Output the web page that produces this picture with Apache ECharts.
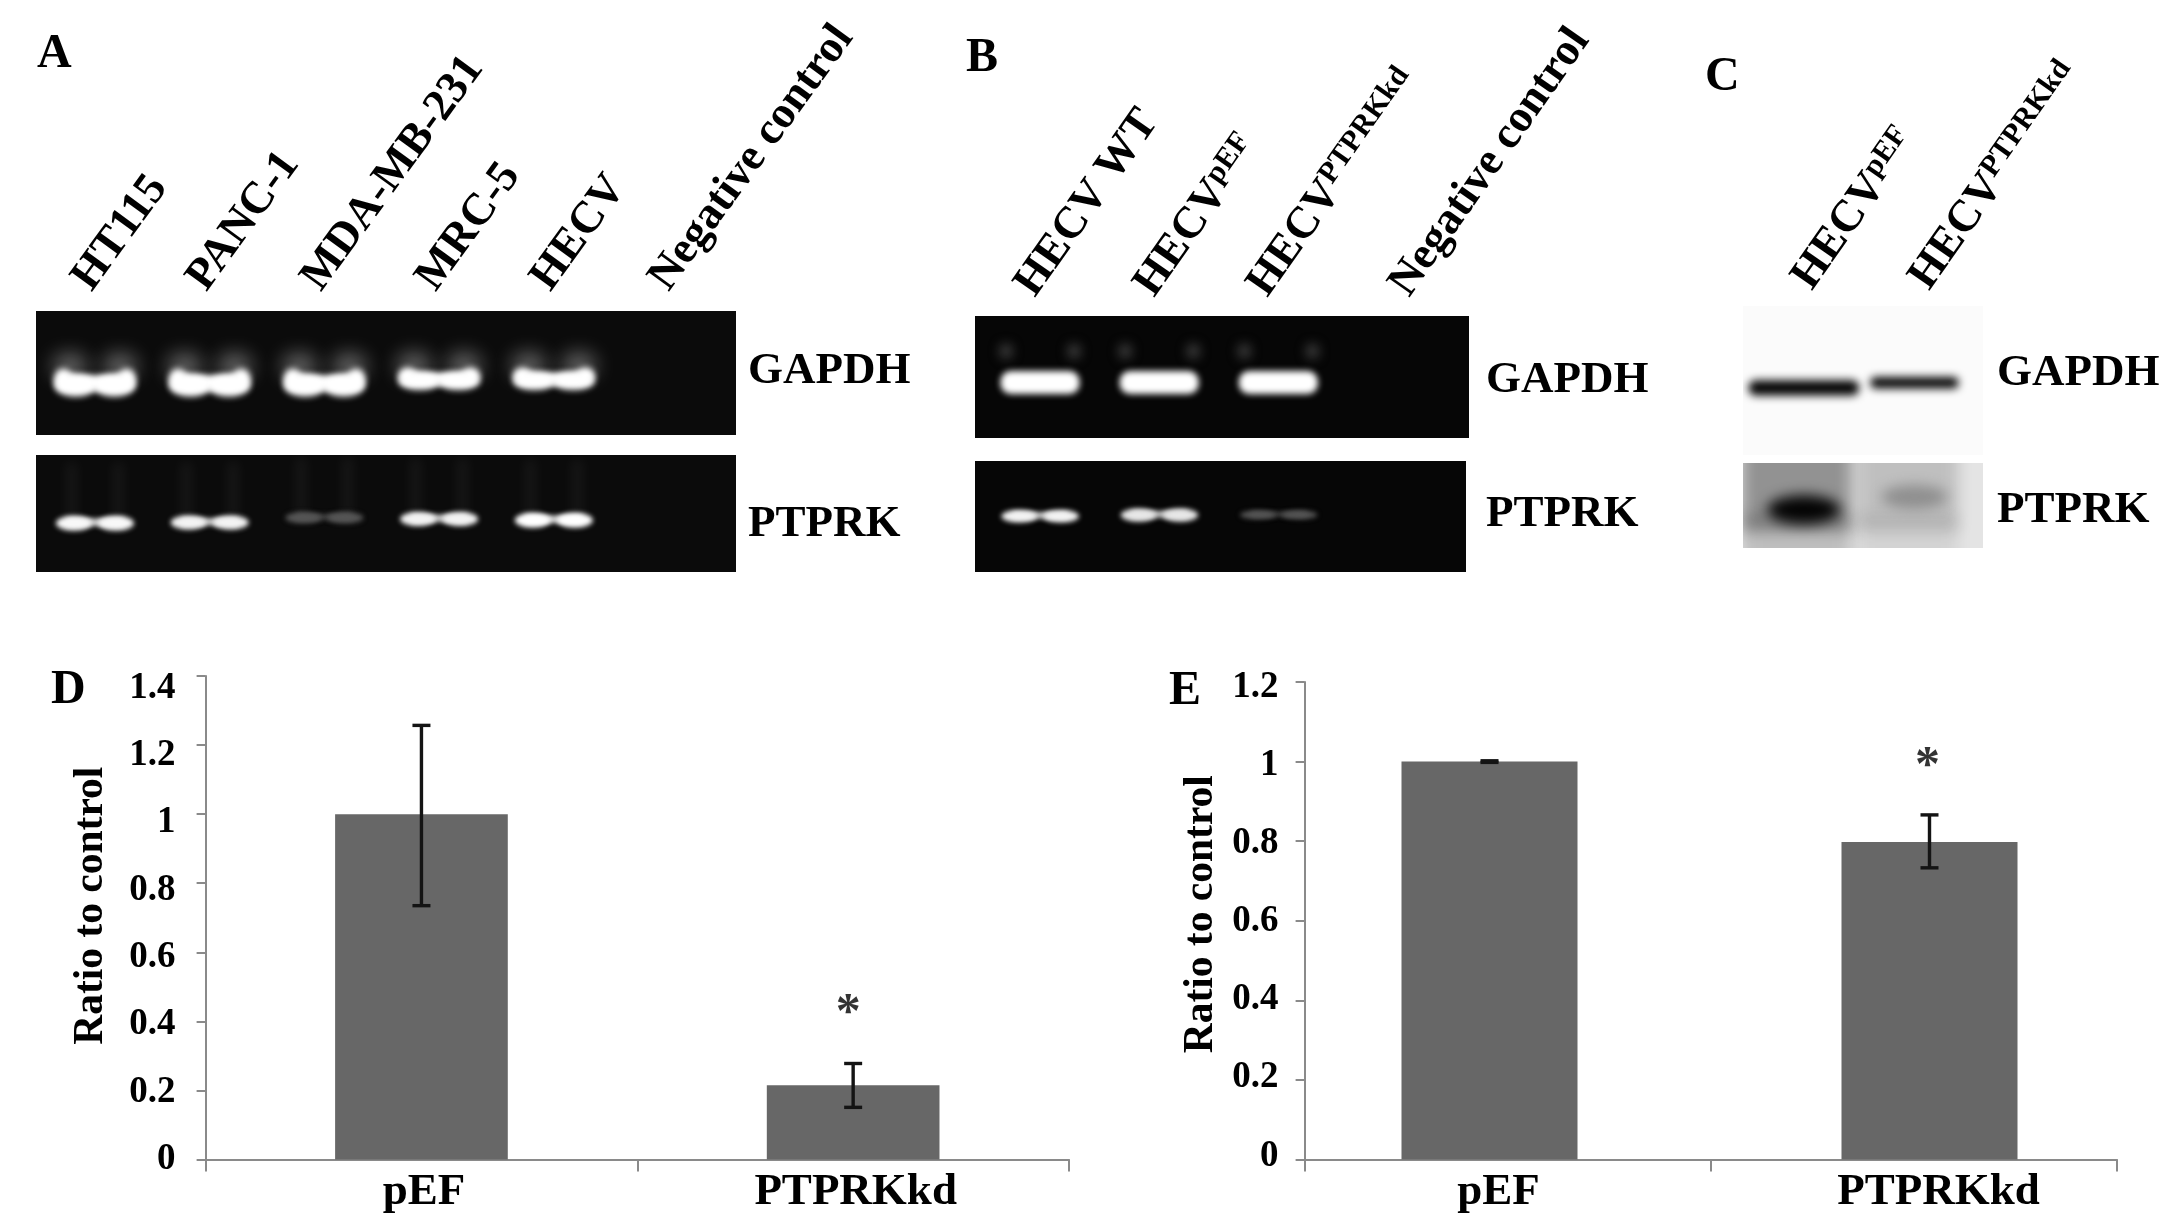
<!DOCTYPE html>
<html><head><meta charset="utf-8">
<style>html,body{margin:0;padding:0;background:#fff}#c{width:2173px;height:1218px}</style>
<script src="https://cdn.jsdelivr.net/npm/echarts@6/dist/echarts.min.js"></script>
</head><body><div id="c"></div>
<script>
// ---- panel A: lanes and bands (migration = % of gel height from the top)
const lanesA = ['HT115','PANC-1','MDA-MB-231','MRC-5','HECV','Negative control'];
const gapdhAIntensity = [1,1,1,1,1,0];
const gapdhAMigration = [57,57,57,54,54,0];
const gapdhAThickness = [25,25,25,20,20,0];
const ptprkAIntensity = [0.97,0.95,0.3,0.95,1,0];
const ptprkAMigration = [57.5,57,53,54,55,0];
const ptprkAThickness = [16,15,12,15,16,0];
// ---- panel B
const lanesB = ['HECV WT','HECV|pEF','HECV|PTPRKkd','Negative control'];
const gapdhBIntensity = [1,1,1,0];
const gapdhBMigration = [54.5,54.5,54.5,0];
const gapdhBThickness = [20.5,20.5,20.5,0];
const ptprkBIntensity = [0.95,0.9,0.3,0];
const ptprkBMigration = [49,48,48,0];
const ptprkBThickness = [14,15,10,0];
// ---- panel C
const lanesC = ['HECV|pEF','HECV|PTPRKkd'];
const gapdhCIntensity = [1,1];
const gapdhCMigration = [55,51.5];
const gapdhCThickness = [16,12];
const ptprkCIntensity = [1,0.45];
const ptprkCMigration = [55,40];
const ptprkCThickness = [34,28];
const ptprkCLaneHaze = [0.36,0.16];
// ---- panel D
const categoriesD = ['pEF','PTPRKkd'];
const ratioD = [1.0,0.215];
const errLowD = [0.735,0.151];
const errHighD = [1.257,0.278];
const starD = [null,0.447];
// ---- panel E
const categoriesE = ['pEF','PTPRKkd'];
const ratioE = [1.0,0.798];
const errLowE = [0.998,0.733];
const errHighE = [1.002,0.866];
const starE = [null,1.01];
// ---- axis tick settings
const yMaxD = 1.4, yMaxE = 1.2, yStep = 0.2;
// ---- texts
const markerLabels = ['GAPDH','PTPRK'];
const panelLetters = ['A','B','C','D','E'];
const yTitle = 'Ratio to control';

const SERIF = '"Liberation Serif","Times New Roman",serif';
const grey = v => { const g = Math.round(v); return `rgb(${g},${g},${g})`; };

// Blurred blob: the body sits off the canvas and only its shadow lands in the gel.
const OFF = 5000;
function soft(type, shape, col, blur) {
  const s = Object.assign({}, shape);
  if (type === 'ellipse') s.cx -= OFF; else s.x -= OFF;
  return {type, shape:s, style:{fill:'#000', shadowColor:col, shadowBlur:blur, shadowOffsetX:OFF}};
}

function bandsRender(cfg) {
  return function (params, api) {
    const lane = api.value(0), mig = api.value(1), I = api.value(2), th = api.value(3);
    if (!I) return null;
    const c = api.coord([lane, mig]);
    const bw = Array.isArray(cfg.bandW) ? cfg.bandW[lane] : cfg.bandW;
    const w = api.size([bw, 0])[0];
    const h = api.size([0, th])[1];
    const cs = params.coordSys;
    const kids = [];
    const cx = c[0], cy = c[1];
    if (cfg.shape === 'crescent') {
      const col = grey(12 + 243 * I), b = 6;
      for (const s of [-1,1]) {
        kids.push(soft('ellipse',{cx:cx+s*w*0.3, cy:cy-h*0.5, rx:w*0.2, ry:12},'rgba(255,255,255,0.42)',20));
      }
      kids.push(soft('rect',{x:cx-w*0.34, y:cy-h*0.2, width:w*0.68, height:h*0.45},col,b));
      for (const s of [-1,1]) {
        kids.push(soft('ellipse',{cx:cx+s*w*0.23, cy:cy+h*0.12, rx:w*0.25, ry:h*0.36},col,b));
        kids.push(soft('ellipse',{cx:cx+s*w*0.38, cy:cy-h*0.08, rx:w*0.11, ry:h*0.34},col,b));
      }
    } else if (cfg.shape === 'pill') {
      const col = grey(12 + 243 * I);
      kids.push(soft('rect',{x:cx-w/2+1, y:cy-h/2+1, width:w-2, height:h-2, r:(h-2)*0.45},col,6));
      for (const s of [-1,1]) {
        kids.push(soft('ellipse',{cx:cx+s*w*0.42, cy:cy-h*1.25, rx:6, ry:7},'rgb(75,75,75)',12));
      }
    } else if (cfg.shape === 'thin') {
      const col = grey(12 + 243 * I), mid = grey(12 + 243 * I * 0.85);
      if (cfg.smear) for (const s of [-1,1]) {
        kids.push(soft('rect',{x:cx+s*w*0.3-6, y:cy-cfg.smear, width:12, height:cfg.smear},`rgba(255,255,255,${cfg.smearA})`,12));
      }
      kids.push(soft('rect',{x:cx-w*0.36, y:cy-h*0.2, width:w*0.72, height:h*0.4},mid,5));
      for (const s of [-1,1]) {
        kids.push(soft('ellipse',{cx:cx+s*w*0.27, cy:cy+h*0.05, rx:w*0.23, ry:h*0.4},col,5));
      }
    } else {
      if (cfg.haze) {
        const hz = cfg.haze[lane];
        const x0 = cx-w*0.85, wd = w*1.5;
        kids.push(soft('rect',{x:x0, y:cs.y-40, width:wd, height:cs.height*0.8+40},`rgba(0,0,0,${hz})`,14));
        kids.push(soft('rect',{x:x0, y:cs.y+cs.height*0.6, width:wd, height:cs.height},`rgba(0,0,0,${hz*0.45})`,14));
      }
      const col = grey(255 - 250 * I);
      if (cfg.haze) {
        kids.push(soft('ellipse',{cx:cx, cy:cy, rx:w*0.5, ry:h*0.5},col,13));
      } else {
        kids.push(soft('rect',{x:cx-w*0.5, y:cy-h*0.32, width:w, height:h*0.64, r:h*0.3},col,9));
      }
    }
    return {type:'group', children:kids};
  };
}

const grids = [], xAxes = [], yAxes = [], series = [];
function gel(cfg) {
  const gi = grids.length;
  grids.push({left:cfg.x0, top:cfg.y0, width:cfg.x1-cfg.x0, height:cfg.y1-cfg.y0, show:true, backgroundColor:cfg.bg, borderWidth:0});
  xAxes.push({gridIndex:gi, type:'value', position:'top', min:cfg.min, max:cfg.max,
    axisLine:{show:false}, axisTick:{show:false}, splitLine:{show:false},
    axisLabel: cfg.names ? {
      show:true, customValues:cfg.labelAt, rotate:cfg.rotate, margin:cfg.margin, padding:[0,0,cfg.pad,0], color:'#000',
      fontFamily:SERIF, fontWeight:'bold', fontSize:45,
      formatter: v => { const n = cfg.names[Math.round(v)]; const p = n.split('|'); return p.length>1 ? `{m|${p[0]}}{s|${p[1]}}` : `{m|${n}}`; },
      rich:{ m:{fontFamily:SERIF,fontWeight:'bold',fontSize:45,color:'#000'},
             s:{fontFamily:SERIF,fontWeight:'bold',fontSize:30,color:'#000',verticalAlign:'top',lineHeight:46} }
    } : {show:false}});
  yAxes.push({gridIndex:gi, type:'value', inverse:true, min:0, max:100, show:false, splitLine:{show:false}});
  series.push({type:'custom', xAxisIndex:gi, yAxisIndex:gi, clip:true, silent:true,
    renderItem:bandsRender(cfg),
    encode:{x:0,y:1},
    data:cfg.intensity.map((v,i)=>[i,cfg.migration[i],v,cfg.thickness[i]])});
}
gel({x0:36,x1:736,y0:311,y1:435,bg:'#0b0b0b',min:-0.514,max:5.588,names:lanesA,labelAt:[0,1,2,3,4,5.03],rotate:54,margin:16,pad:32,
  shape:'crescent',bandW:0.73,intensity:gapdhAIntensity,migration:gapdhAMigration,thickness:gapdhAThickness});
gel({x0:36,x1:736,y0:455,y1:572,bg:'#0b0b0b',min:-0.514,max:5.588,
  shape:'thin',bandW:0.68,smear:60,smearA:0.05,intensity:ptprkAIntensity,migration:ptprkAMigration,thickness:ptprkAThickness});
gel({x0:975,x1:1469,y0:316,y1:438,bg:'#060606',min:-0.546,max:3.6,names:lanesB,labelAt:[0,1,1.95,3.14],rotate:55,margin:14,pad:36,
  shape:'pill',bandW:0.68,intensity:gapdhBIntensity,migration:gapdhBMigration,thickness:gapdhBThickness});
gel({x0:975,x1:1466,y0:461,y1:572,bg:'#060606',min:-0.546,max:3.57,
  shape:'thin',bandW:0.65,smear:0,smearA:0,intensity:ptprkBIntensity,migration:ptprkBMigration,thickness:ptprkBThickness});
gel({x0:1743,x1:1983,y0:306,y1:455,bg:'#fbfbfb',min:-0.55,max:1.62,names:lanesC,labelAt:[0,1.06],rotate:55,margin:20,pad:4,
  shape:'blot',bandW:[1.0,0.8],intensity:gapdhCIntensity,migration:gapdhCMigration,thickness:gapdhCThickness});
gel({x0:1743,x1:1983,y0:463,y1:548,bg:'#e4e4e4',min:-0.55,max:1.62,
  shape:'blot',bandW:[0.66,0.6],haze:ptprkCLaneHaze,intensity:ptprkCIntensity,migration:ptprkCMigration,thickness:ptprkCThickness});

function barPanel(cfg) {
  const axisCol = '#8a8a8a';
  const gi = grids.length;
  grids.push({left:cfg.x0, top:cfg.y0, width:cfg.x1-cfg.x0, height:cfg.y1-cfg.y0});          // axes
  grids.push({left:cfg.x0, top:cfg.labY0, width:cfg.x1-cfg.x0, height:cfg.labY1-cfg.labY0}); // value labels
  grids.push({left:cfg.dx0, top:cfg.y0, width:cfg.dx1-cfg.dx0, height:cfg.y1-cfg.y0});       // bars
  const xi = xAxes.length, yi = yAxes.length;
  xAxes.push({gridIndex:gi, type:'category', data:cfg.cats,
    axisLine:{lineStyle:{color:axisCol,width:2}}, axisTick:{show:true,length:12,lineStyle:{color:axisCol,width:2}},
    axisLabel:{show:false}});
  xAxes.push({gridIndex:gi+1, type:'category', data:cfg.cats, show:false});
  xAxes.push({gridIndex:gi+2, type:'category', data:cfg.cats, axisLine:{show:false}, axisTick:{show:false},
    axisLabel:{color:'#000',fontFamily:SERIF,fontWeight:'bold',fontSize:45,margin:cfg.xMargin,interval:0,padding:[0,0,0,cfg.xPad]}});
  yAxes.push({gridIndex:gi, type:'value', min:0, max:cfg.yMax, interval:yStep,
    splitLine:{show:false},
    axisLine:{show:true,lineStyle:{color:axisCol,width:2}}, axisTick:{show:true,length:9,lineStyle:{color:axisCol,width:2}},
    axisLabel:{show:false},
    name:yTitle, nameLocation:'middle', nameGap:cfg.nameGap, nameRotate:90,
    nameTextStyle:{color:'#000',fontFamily:SERIF,fontWeight:'bold',fontSize:41.5,padding:[0,0,0,cfg.namePad]}});
  yAxes.push({gridIndex:gi+1, type:'value', min:0, max:cfg.yMax, interval:yStep,
    splitLine:{show:false}, axisLine:{show:false}, axisTick:{show:false},
    axisLabel:{color:'#000',fontFamily:SERIF,fontWeight:'bold',fontSize:37,margin:cfg.labMargin}});
  yAxes.push({gridIndex:gi+2, type:'value', min:0, max:cfg.yMax, interval:yStep, show:false, splitLine:{show:false}});
  const dx = xi+2, dy = yi+2;
  series.push({type:'bar', xAxisIndex:dx, yAxisIndex:dy, data:cfg.vals, barWidth:cfg.barW, itemStyle:{color:'#676767'}, silent:true});
  series.push({type:'custom', xAxisIndex:dx, yAxisIndex:dy, silent:true, z:5,
    encode:{x:0,y:[1,2]},
    data:cfg.vals.map((v,i)=>[i,cfg.lo[i],cfg.hi[i]]),
    renderItem:(p,api)=>{
      const i=api.value(0), a=api.coord([i,api.value(1)]), b=api.coord([i,api.value(2)]);
      const st={stroke:'#141414',lineWidth:3.4,fill:null}, cap=9;
      return {type:'group',children:[
        {type:'line',shape:{x1:a[0],y1:a[1],x2:b[0],y2:b[1]},style:st},
        {type:'line',shape:{x1:a[0]-cap,y1:a[1],x2:a[0]+cap,y2:a[1]},style:st},
        {type:'line',shape:{x1:b[0]-cap,y1:b[1],x2:b[0]+cap,y2:b[1]},style:st}]};
    }});
  series.push({type:'scatter', xAxisIndex:dx, yAxisIndex:dy, silent:true, symbolSize:1, itemStyle:{color:'transparent'},
    data:cfg.star.map((v,i)=>[i,v]).filter(d=>d[1]!==null),
    label:{show:true,position:'inside',formatter:'*',color:'#000',fontFamily:SERIF,fontWeight:'bold',fontSize:50,offset:cfg.starOff}});
}
barPanel({x0:205.6,x1:1069,dx0:205.6,dx1:1069,y0:676,y1:1159.5,labY0:688,labY1:1159.5,cats:categoriesD,vals:ratioD,lo:errLowD,hi:errHighD,star:starD,
  yMax:yMaxD,barW:'40%',nameGap:93,namePad:24,labMargin:30,xMargin:10,xPad:5,starOff:[-5,9]});
barPanel({x0:1304.6,x1:2117,dx0:1269.5,dx1:2149.5,y0:682,y1:1159.5,labY0:687.5,labY1:1156,cats:categoriesE,vals:ratioE,lo:errLowE,hi:errHighE,star:starE,
  yMax:yMaxE,barW:'40%',nameGap:82,namePad:13,labMargin:26,xMargin:10,xPad:18,starOff:[-2,9]});

function txt(s,x,y,size){ return {type:'text',left:x,top:y,silent:true,style:{text:s,fill:'#000',font:`bold ${size}px ${SERIF}`,textVerticalAlign:'middle',textAlign:'left'}}; }
const graphic = [
  txt(panelLetters[0],37,31,48), txt(panelLetters[1],966,35,48), txt(panelLetters[2],1705,54,48),
  txt(panelLetters[3],51,667,48), txt(panelLetters[4],1169,668,48),
  txt(markerLabels[0],748,349,45), txt(markerLabels[1],748,502,45),
  txt(markerLabels[0],1486,358,45), txt(markerLabels[1],1486,492,45),
  txt(markerLabels[0],1997,351,45), txt(markerLabels[1],1997,488,45)
];

const chart = echarts.init(document.getElementById('c'), null, {renderer:'canvas'});
chart.setOption({animation:false, backgroundColor:'#fff', textStyle:{fontFamily:SERIF},
  grid:grids, xAxis:xAxes, yAxis:yAxes, series:series, graphic:graphic});
</script></body></html>
